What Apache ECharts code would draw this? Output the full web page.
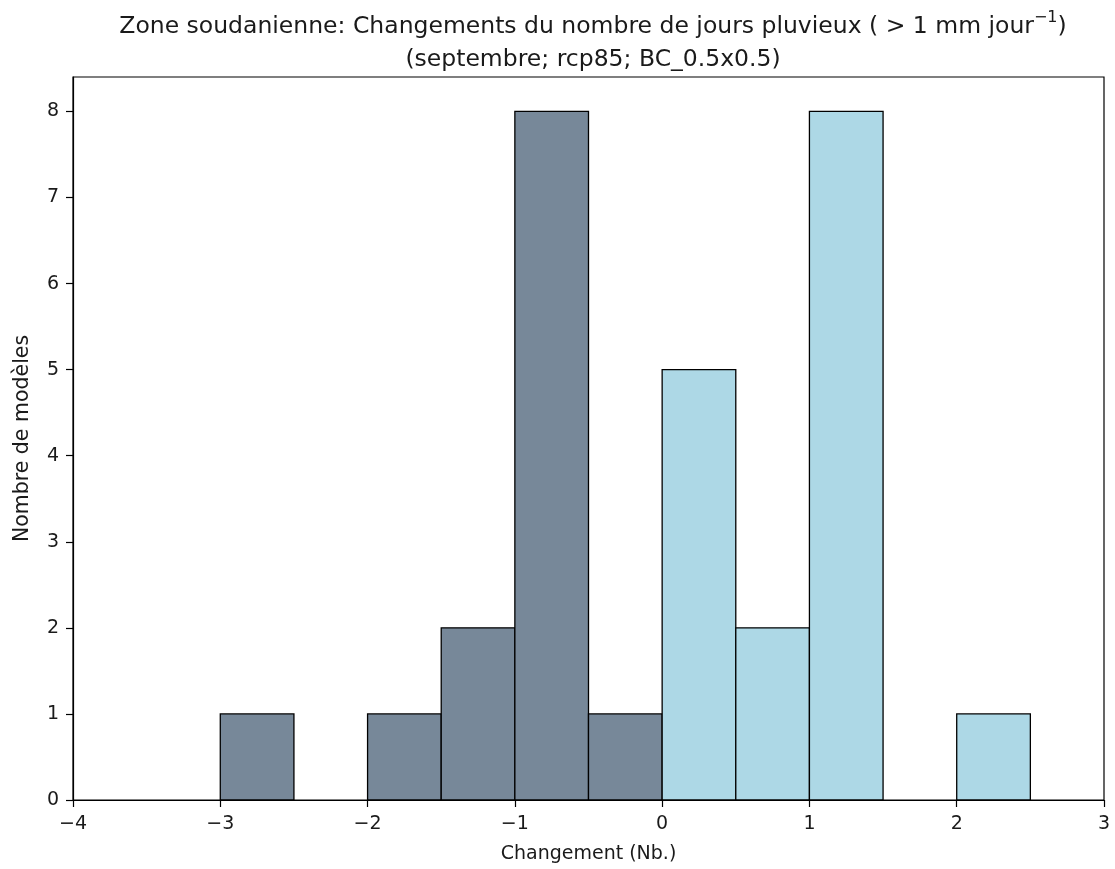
<!DOCTYPE html>
<html>
<head>
<meta charset="utf-8">
<script src="https://cdn.jsdelivr.net/npm/echarts@6/dist/echarts.min.js"></script>
<style>
  html, body { margin: 0; padding: 0; background: #fff; }
  #chart { width: 1115px; height: 869px; }
</style>
</head>
<body>
<div id="chart"></div>
<script>
// histogram bins (left edge) and counts
var binStarts = [-3, -2.5, -2, -1.5, -1, -0.5, 0, 0.5, 1, 1.5, 2];
var binCounts = [1, 0, 1, 2, 8, 1, 5, 2, 8, 0, 1];
var binWidth = 0.5;
var yTicks = [0, 1, 2, 3, 4, 5, 6, 7, 8];

var colorNeg = '#778899';
var colorPos = '#add8e6';
var font = 'DejaVu Sans';

var barData = [];
for (var i = 0; i < binStarts.length; i++) {
    if (binCounts[i] > 0) {
        barData.push([binStarts[i], binStarts[i] + binWidth, binCounts[i]]);
    }
}

function minusSign(v) {
    return String(v).replace('-', '\u2212');
}

var myChart = echarts.init(document.getElementById('chart'));
var option = {
    backgroundColor: '#fff',
    animation: false,
    title: {
        text: '{a|Zone soudanienne: Changements du nombre de jours pluvieux ( > 1 mm jour}{sup|\u22121}{a|)}\n{a|(septembre; rcp85; BC_0.5x0.5)}',
        left: 588,
        textAlign: 'center',
        top: 5,
        textStyle: {
            rich: {
                a: { fontFamily: font, fontSize: 23.5, color: '#1a1a1a', lineHeight: 33, fontWeight: 'normal' },
                sup: { fontFamily: font, fontSize: 16, color: '#1a1a1a', fontWeight: 'normal', verticalAlign: 'top', lineHeight: 33, padding: [0, 0, 12, 0] }
            }
        }
    },
    grid: {
        left: 73, right: 11, top: 77, bottom: 69,
        show: true, borderColor: '#000', borderWidth: 1.2
    },
    xAxis: {
        type: 'value',
        min: -4, max: 3, interval: 1,
        name: 'Changement (Nb.)',
        nameLocation: 'middle',
        nameGap: 45,
        nameTextStyle: { fontFamily: font, fontSize: 19, color: '#1a1a1a' },
        axisLine: { onZero: false, lineStyle: { color: '#000', width: 1.2 } },
        axisTick: { show: true, length: 7, lineStyle: { color: '#000', width: 1.2 } },
        axisLabel: { fontFamily: font, fontSize: 19, color: '#1a1a1a', margin: 15, formatter: minusSign },
        splitLine: { show: false }
    },
    yAxis: {
        type: 'value',
        min: 0, max: 8.4, interval: 1,
        name: 'Nombre de modèles',
        nameLocation: 'middle',
        nameGap: 40,
        nameTextStyle: { fontFamily: font, fontSize: 20.5, color: '#1a1a1a' },
        axisLine: { show: true, onZero: false, lineStyle: { color: '#000', width: 1.2 } },
        axisTick: { show: true, length: 7, lineStyle: { color: '#000', width: 1.2 } },
        axisLabel: {
            fontFamily: font, fontSize: 19, color: '#1a1a1a', margin: 14,
            showMaxLabel: false,
            formatter: function (v) { return yTicks.indexOf(v) >= 0 ? String(v) : ''; }
        },
        splitLine: { show: false }
    },
    series: [{
        type: 'custom',
        data: barData,
        renderItem: function (params, api) {
            var x0 = api.value(0), x1 = api.value(1), h = api.value(2);
            var p0 = api.coord([x0, h]);
            var p1 = api.coord([x1, 0]);
            return {
                type: 'rect',
                shape: { x: p0[0], y: p0[1], width: p1[0] - p0[0], height: p1[1] - p0[1] },
                style: { fill: x0 < 0 ? colorNeg : colorPos, stroke: '#000', lineWidth: 1.3 }
            };
        },
        encode: { x: [0, 1], y: 2 }
    }]
};
myChart.setOption(option);
</script>
</body>
</html>
